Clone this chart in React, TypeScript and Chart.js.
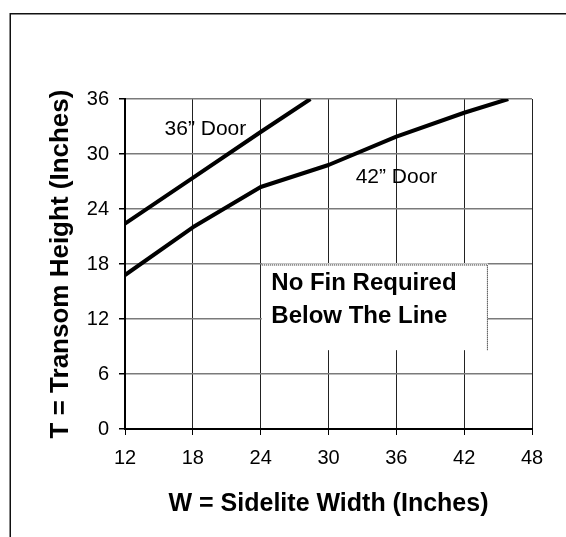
import React, { useEffect, useRef } from "react";
import { Chart, registerables } from "chart.js";

Chart.register(...registerables);

// ---- data ----
const widths36 = [12, 18, 24, 28.4];
const heights36 = [22.4, 27.4, 32.4, 36];
const widths42 = [12, 18, 24, 30, 36, 42, 45.9];
const heights42 = [16.8, 22.0, 26.4, 28.8, 31.9, 34.5, 36];
const seriesLabels = ["36\u201D Door", "42\u201D Door"];
const noteLines = ["No Fin Required", "Below The Line"];
const xTitle = "W = Sidelite Width (Inches)";
const yTitle = "T = Transom Height (Inches)";
const xMin = 12;
const xMax = 48;
const yMin = 0;
const yMax = 36;
const tickStep = 6;

const FONT = '"Liberation Sans", Arial, Helvetica, sans-serif';

// annotation placement (data units)
const label36At = { x: 15.5, y: 32.7 };
const label42At = { x: 32.4, y: 27.5 };
const noteBox = { x0: 24.1, x1: 44.1, y0: 17.95, y1: 8.6 };

const framePlugin = {
  id: "frame",
  beforeDraw(chart: any) {
    const { ctx } = chart;
    ctx.save();
    ctx.fillStyle = "#fff";
    ctx.fillRect(0, 0, chart.width, chart.height);
    ctx.strokeStyle = "#111";
    ctx.lineWidth = 1.5;
    ctx.beginPath();
    ctx.moveTo(10.25, chart.height);
    ctx.lineTo(10.25, 13.75);
    ctx.lineTo(chart.width, 13.75);
    ctx.stroke();
    ctx.restore();
  },
};

const annotPlugin = {
  id: "annot",
  afterDraw(chart: any) {
    const { ctx } = chart;
    const x = chart.scales.x;
    const y = chart.scales.y;
    ctx.save();
    const bx0 = x.getPixelForValue(noteBox.x0);
    const bx1 = x.getPixelForValue(noteBox.x1);
    const by0 = y.getPixelForValue(noteBox.y0);
    const by1 = y.getPixelForValue(noteBox.y1);
    ctx.fillStyle = "#fff";
    ctx.fillRect(bx0, by0 - 1, bx1 - bx0, by1 - by0 + 1);
    ctx.strokeStyle = "#000";
    ctx.lineWidth = 1;
    ctx.setLineDash([1, 1]);
    ctx.beginPath();
    ctx.moveTo(bx0, by0 + 0.5);
    ctx.lineTo(bx1 - 0.5, by0 + 0.5);
    ctx.lineTo(bx1 - 0.5, by1);
    ctx.stroke();
    ctx.setLineDash([]);
    ctx.fillStyle = "#000";
    ctx.textAlign = "left";
    ctx.textBaseline = "alphabetic";
    ctx.font = `bold 24px ${FONT}`;
    ctx.fillText(noteLines[0], bx0 + 9.5, by0 + 26);
    ctx.fillText(noteLines[1], bx0 + 9.5, by0 + 58.5);

    ctx.font = `21px ${FONT}`;
    ctx.textBaseline = "middle";
    ctx.fillText(seriesLabels[0], x.getPixelForValue(label36At.x), y.getPixelForValue(label36At.y));
    ctx.fillText(seriesLabels[1], x.getPixelForValue(label42At.x), y.getPixelForValue(label42At.y));
    ctx.restore();
  },
};

export default function App() {
  const ref = useRef<HTMLCanvasElement | null>(null);

  useEffect(() => {
    if (!ref.current) return;
    const toPts = (xs: number[], ys: number[]) => xs.map((v, i) => ({ x: v, y: ys[i] }));
    const chart = new Chart(ref.current, {
      type: "scatter",
      data: {
        datasets: [
          {
            label: seriesLabels[0],
            data: toPts(widths36, heights36),
            showLine: true,
            borderColor: "#000",
            borderWidth: 4,
            pointRadius: 0,
            borderJoinStyle: "round",
            tension: 0,
          },
          {
            label: seriesLabels[1],
            data: toPts(widths42, heights42),
            showLine: true,
            borderColor: "#000",
            borderWidth: 4,
            pointRadius: 0,
            borderJoinStyle: "round",
            tension: 0,
          },
        ],
      },
      options: {
        animation: false,
        responsive: false,
        devicePixelRatio: 1,
        layout: { padding: { left: 0, top: 99, right: 34, bottom: 0 } },
        plugins: {
          legend: { display: false },
          tooltip: { enabled: false },
        },
        scales: {
          x: {
            type: "linear",
            min: xMin,
            max: xMax,
            afterFit: (s: any) => {
              s.height = 108;
            },
            ticks: {
              stepSize: tickStep,
              color: "#000",
              padding: 11,
              font: { family: FONT, size: 20 },
              maxRotation: 0,
            },
            grid: {
              color: "#222",
              lineWidth: 1,
              tickColor: "#000",
              tickLength: 6,
            },
            border: { color: "#000", width: 2 },
            title: {
              display: true,
              text: xTitle,
              color: "#000",
              font: { family: FONT, size: 25, weight: "bold" },
              padding: { top: 0, bottom: 18 },
            },
          },
          y: {
            type: "linear",
            min: yMin,
            max: yMax,
            afterFit: (s: any) => {
              s.width = 125;
            },
            ticks: {
              stepSize: tickStep,
              color: "#000",
              padding: 10,
              font: { family: FONT, size: 20 },
            },
            grid: {
              color: "#7a7a7a",
              lineWidth: 1.5,
              tickColor: "#000",
              tickLength: 6,
            },
            border: { color: "#000", width: 2 },
            title: {
              display: true,
              text: yTitle,
              color: "#000",
              font: { family: FONT, size: 26, weight: "bold" },
              padding: { top: 45, bottom: 0 },
            },
          },
        },
      },
      plugins: [framePlugin, annotPlugin],
    } as any);
    return () => chart.destroy();
  }, []);

  return (
    <div style={{ position: "absolute", left: 0, top: 0, width: 566, height: 537 }}>
      <canvas ref={ref} width={566} height={537} style={{ display: "block", width: 566, height: 537 }} />
    </div>
  );
}
